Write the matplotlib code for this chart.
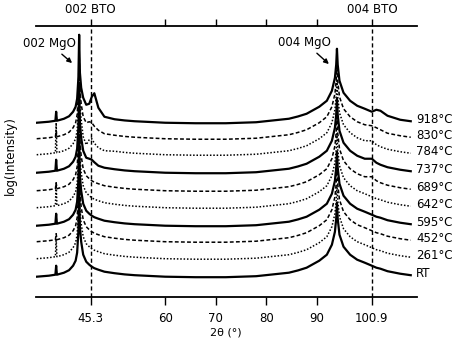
import matplotlib.pyplot as plt
import numpy as np

# 2theta positions the profiles were read at
two_theta = [34.6, 37.0, 38.3, 38.45, 38.6, 40.0, 41.0, 41.8, 42.3, 42.6, 42.85, 43.0, 43.15,
             43.4, 43.8, 44.4, 45.0, 45.5, 46.0, 46.8, 48.0, 50.0, 52.0, 54.0, 60.0, 66.0, 72.0,
             78.0, 84.5, 86.3, 88.0, 90.5, 92.0, 93.0, 93.6, 93.85, 94.0, 94.15, 94.5, 95.3, 96.6,
             98.0, 99.5, 100.9, 101.8, 102.6, 104.0, 106.5, 108.6]
# MgO substrate profile, height above each scan's background (log units, arbitrary)
mgo_profile = [0, 1, 2, 2, 2, 4, 6.5, 11, 16, 24, 45, 88, 50,
               35, 22, 15, 12, 10, 8.5, 7, 5, 3.5, 2.3, 1.5, 0, -0.5, -0.5,
               0.5, 4, 6.3, 9, 16, 22, 32, 45, 58, 74, 58, 42, 30, 22,
               17, 14, 11, 9, 8, 5.5, 3, 1.5]

temps = ["918°C", "830°C", "784°C", "737°C", "689°C", "642°C", "595°C", "452°C", "261°C", "RT"]
background = [174, 158, 142, 124, 106, 89, 71, 55, 38, 20]
spike_38 = [9, 6, 30, 11, 6, 22, 10, 6, 18, 9]

# extra height from the BTO film reflections (2theta, height)
bto_918 = [(43.8, 3), (44.4, 3), (45.0, 7), (45.5, 16), (46.0, 21), (46.8, 8), (48.0, 1),
           (101.8, 4), (102.6, 4), (104.0, 1.5)]
bto_830 = [(44.4, 1), (45.0, 5), (45.5, 6), (46.0, 4), (46.8, 1.5),
           (100.9, 2), (101.8, 2), (102.6, 1)]
bto_784 = [(43.8, -4), (44.4, -5), (45.0, 3), (45.5, 6), (46.0, 3), (48.0, -1),
           (100.9, 3), (101.8, 1)]
bto_737 = [(45.0, 2), (45.5, 3), (46.0, 2), (100.9, 3), (101.8, 1)]
bto_689 = [(100.9, 3), (101.8, 1)]
bto_peaks = {"918°C": bto_918, "830°C": bto_830, "784°C": bto_784,
             "737°C": bto_737, "689°C": bto_689}

tick_pos = [45.3, 60, 70, 80, 90, 100.9]
tick_labels = ["45.3", "60", "70", "80", "90", "100.9"]
top_labels = ["002 BTO", "", "", "", "", "004 BTO"]

fig = plt.figure(figsize=(4.54, 3.43), dpi=100)
ax = fig.add_axes([0.0786, 0.135, 0.8395, 0.789])

styles = ["-", (0, (2.5, 1.5)), (0, (1, 1.2))]
widths = [1.6, 1.1, 1.1]
for i, t in enumerate(temps):
    y = background[i] + np.array(mgo_profile, dtype=float)
    y[two_theta.index(38.45)] += spike_38[i]
    for pos, h in bto_peaks.get(t, []):
        y[two_theta.index(pos)] += h
    ax.plot(two_theta, y, color="black", ls=styles[i % 3], lw=widths[i % 3])
    ax.annotate(t, (two_theta[-1], y[-1]), xytext=(4, 1), textcoords="offset points",
                va="center", ha="left", fontsize=8.5, annotation_clip=False)

# BTO reference positions
for pos in [45.3, 100.9]:
    ax.axvline(pos, color="black", ls=(0, (3, 2)), lw=1)

ax.annotate("002 MgO", xy=(41.6, 233.7), xytext=(37.05, 253.7), ha="center", va="center",
            fontsize=8.5, arrowprops=dict(arrowstyle="-|>", color="black", lw=1,
                                          shrinkA=2, shrinkB=0, mutation_scale=7))
ax.annotate("004 MgO", xy=(92.4, 232.7), xytext=(87.6, 254.7), ha="center", va="center",
            fontsize=8.5, arrowprops=dict(arrowstyle="-|>", color="black", lw=1,
                                          shrinkA=2, shrinkB=0, mutation_scale=7))

ax.set_xlim(34.4, 109.8)
ax.set_ylim(0, 270.7)
ax.spines["left"].set_visible(False)
ax.spines["right"].set_visible(False)
ax.spines["top"].set_visible(False)
ax.spines["bottom"].set_linewidth(1.3)
ax.set_yticks([])
ax.set_xticks(tick_pos, tick_labels)
ax.tick_params(axis="x", direction="out", length=6, width=1, labelsize=8.5, pad=5)
ax.set_xlabel("2θ (°)", fontsize=8, labelpad=2)
ax.set_ylabel("log(Intensity)", fontsize=8.5)
ax.yaxis.set_label_coords(-0.05, 0.52)

top = ax.secondary_xaxis("top")
top.set_xticks(tick_pos, top_labels)
top.spines["top"].set_linewidth(1.3)
top.tick_params(direction="out", length=5, width=1, labelsize=8.5, pad=2)

fig.savefig("out.png", dpi=100)
